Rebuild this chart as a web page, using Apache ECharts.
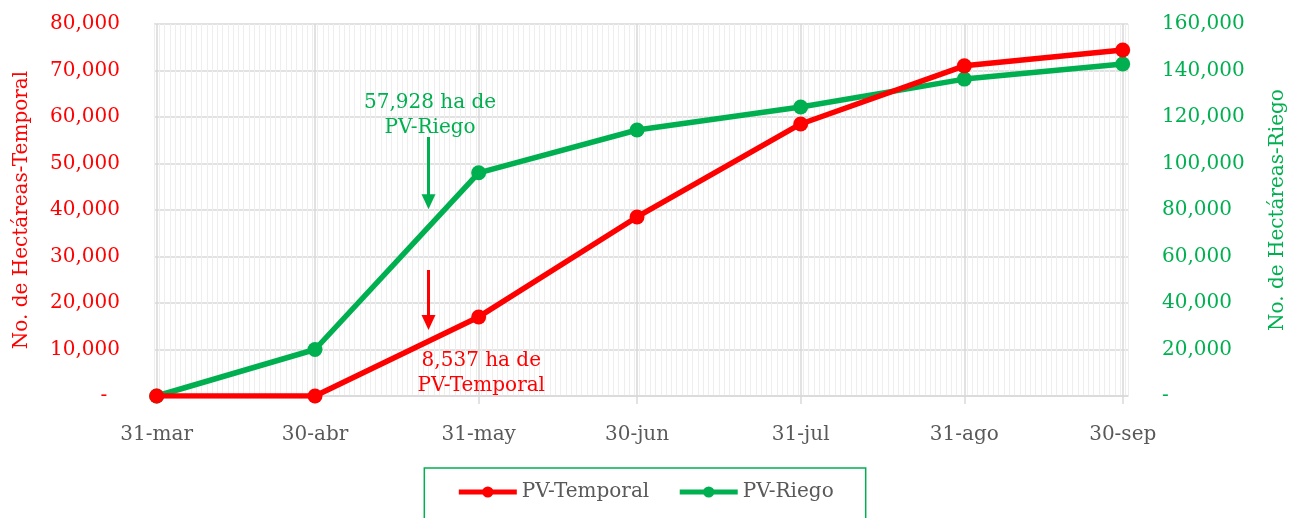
<!DOCTYPE html>
<html>
<head>
<meta charset="utf-8">
<script src="https://cdn.jsdelivr.net/npm/echarts@6/dist/echarts.min.js"></script>
<style>html,body{margin:0;padding:0;background:#fff}#c{width:1290px;height:518px}</style>
</head>
<body>
<div id="c"></div>
<script>
// ---- data ----
const categories = ['31-mar', '30-abr', '31-may', '30-jun', '31-jul', '31-ago', '30-sep'];
const dayOffsets = [0, 30, 61, 91, 122, 153, 183];
const temporal = [0, 0, 17000, 38500, 58500, 71000, 74400];
const riego = [0, 20000, 96000, 114400, 124300, 136300, 142800];
const leftTicks = [0, 10000, 20000, 30000, 40000, 50000, 60000, 70000, 80000];
const rightTicks = [0, 20000, 40000, 60000, 80000, 100000, 120000, 140000, 160000];
const riegoNote = { text: '57,928 ha de\nPV-Riego', day: 51.8, value: 120800, arrowFrom: 111400, arrowTo: 83600, arrowDay: 51.5 };
const temporalNote = { text: '8,537 ha de\nPV-Temporal', day: 61.5, value: 4800, arrowFrom: 27100, arrowTo: 15800, arrowDay: 51.5 };

const RED = '#FF0000', GREEN = '#00B050', GRAY = '#595959', GRID = '#D9D9D9';
const FONT = '"DejaVu Serif", serif';
const FS = 20;
const fmt = v => v === 0 ? '-' : v.toLocaleString('en-US');

const chart = echarts.init(document.getElementById('c'), null, { renderer: 'canvas' });
chart.setOption({
  animation: false,
  textStyle: { fontFamily: FONT },
  grid: { left: 154, right: 162, top: 24, height: 372, outerBoundsMode: 'none', containLabel: false },
  legend: {
    bottom: -30, left: 'center',
    data: ['PV-Temporal', 'PV-Riego'],
    borderColor: GREEN, borderWidth: 1.5,
    padding: [14, 32, 46, 32],
    itemWidth: 58, itemHeight: 14, itemGap: 28,
    lineStyle: { width: 5 },
    textStyle: { color: GRAY, fontSize: FS, fontFamily: FONT }
  },
  xAxis: [{
    type: 'value', min: -0.5, max: 184,
    axisLine: { show: true, lineStyle: { color: GRID, width: 1.5 } },
    axisTick: { show: true, customValues: dayOffsets, length: 8, lineStyle: { color: GRID, width: 1.5 } },
    axisLabel: {
      customValues: dayOffsets, color: GRAY, fontSize: FS, margin: 29, fontFamily: FONT,
      formatter: v => categories[dayOffsets.indexOf(v)] || ''
    },
    splitLine: { show: true, lineStyle: { color: GRID, width: 1.5 } }
  }, {
    type: 'value', min: -0.5, max: 184, interval: 1, show: true,
    axisLine: { show: false }, axisTick: { show: false }, axisLabel: { show: false },
    splitLine: { show: true, lineStyle: { color: '#EEEEEE', width: 1 } }, z: 0
  }],
  yAxis: [{
    type: 'value', min: 0, max: 80000, interval: 10000, position: 'left',
    name: 'No. de Hectáreas-Temporal', nameLocation: 'middle', nameGap: 122,
    nameTextStyle: { color: RED, fontSize: FS, fontFamily: FONT },
    axisLine: { show: false }, axisTick: { show: false },
    axisLabel: { color: RED, fontSize: FS, margin: 34, fontFamily: FONT, formatter: v => v === 0 ? '-  ' : fmt(v) },
    splitLine: { show: true, lineStyle: { color: GRID, width: 1.5 } }
  }, {
    type: 'value', min: 0, max: 160000, interval: 20000, position: 'right',
    name: 'No. de Hectáreas-Riego', nameLocation: 'middle', nameGap: 140, nameRotate: 90,
    nameTextStyle: { color: GREEN, fontSize: FS, fontFamily: FONT },
    axisLine: { show: false }, axisTick: { show: false },
    axisLabel: { color: GREEN, fontSize: FS, margin: 34, fontFamily: FONT, formatter: v => v === 0 ? '-' : fmt(v) },
    splitLine: { show: false }
  }],
  series: [{
    name: 'PV-Temporal', type: 'line', yAxisIndex: 0, xAxisIndex: 0,
    data: dayOffsets.map((d, i) => [d, temporal[i]]),
    color: RED, lineStyle: { width: 5.5, color: RED }, symbol: 'circle', symbolSize: 15,
    itemStyle: { color: RED }, z: 5,
    markLine: {
      silent: true, symbol: ['none', 'triangle'], symbolSize: [14, 15],
      lineStyle: { color: RED, width: 3, type: 'solid' }, label: { show: false },
      data: [[{ coord: [temporalNote.arrowDay, temporalNote.arrowFrom] }, { coord: [temporalNote.arrowDay, temporalNote.arrowTo] }]]
    },
    markPoint: {
      silent: true, symbol: 'circle', symbolSize: 1, itemStyle: { color: 'transparent' },
      label: { show: true, position: 'inside', color: RED, fontSize: FS, lineHeight: 25, fontFamily: FONT, formatter: temporalNote.text },
      data: [{ coord: [temporalNote.day, temporalNote.value] }]
    }
  }, {
    name: 'PV-Riego', type: 'line', yAxisIndex: 1, xAxisIndex: 0,
    data: dayOffsets.map((d, i) => [d, riego[i]]),
    color: GREEN, lineStyle: { width: 5.5, color: GREEN }, symbol: 'circle', symbolSize: 15,
    itemStyle: { color: GREEN }, z: 4,
    markLine: {
      silent: true, symbol: ['none', 'triangle'], symbolSize: [14, 15],
      lineStyle: { color: GREEN, width: 3, type: 'solid' }, label: { show: false },
      data: [[{ coord: [riegoNote.arrowDay, riegoNote.arrowFrom] }, { coord: [riegoNote.arrowDay, riegoNote.arrowTo] }]]
    },
    markPoint: {
      silent: true, symbol: 'circle', symbolSize: 1, itemStyle: { color: 'transparent' },
      label: { show: true, position: 'inside', color: GREEN, fontSize: FS, lineHeight: 25, fontFamily: FONT, formatter: riegoNote.text },
      data: [{ coord: [riegoNote.day, riegoNote.value] }]
    }
  }]
});
</script>
</body>
</html>
